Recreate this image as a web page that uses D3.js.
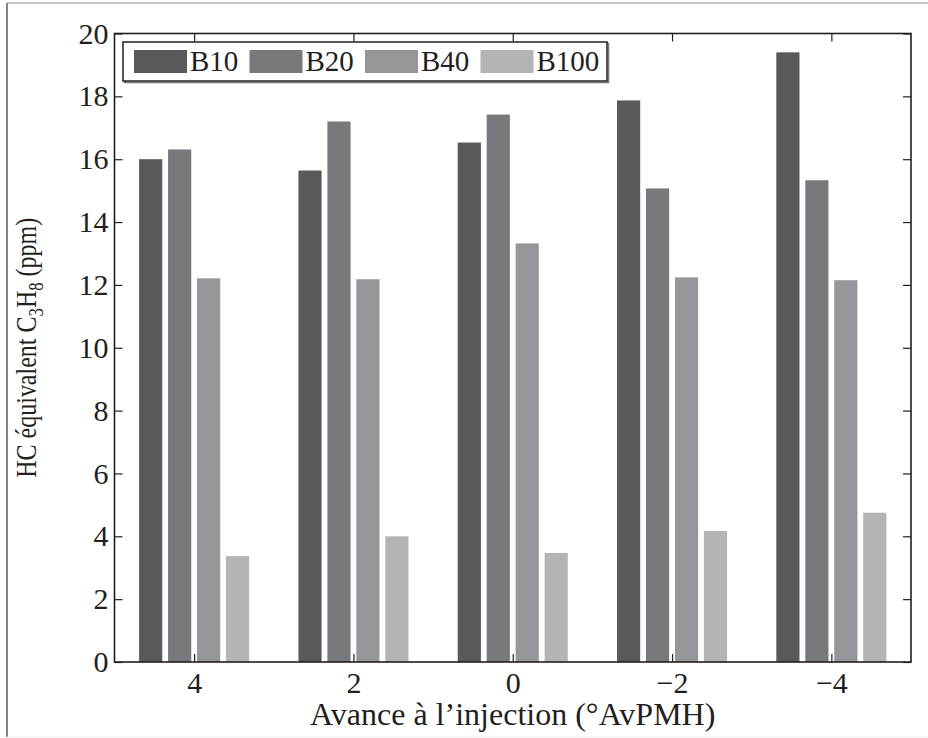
<!DOCTYPE html>
<html>
<head>
<meta charset="utf-8" />
<style>
	body { margin: 0; background: #fff; }
	svg { display: block; }
	text { font-family: "Liberation Serif", "Times New Roman", serif; fill: #231f20; }
</style>
<title>HC équivalent C3H8</title>
</head>
<body>
<script src="https://cdn.jsdelivr.net/npm/d3@7"></script>
<script>
	// data
	var categories = ["4", "2", "0", "\u22122", "\u22124"];
	var series = ["B10", "B20", "B40", "B100"];
	var b10 = [16.0, 15.64, 16.53, 17.87, 19.4];
	var b20 = [16.31, 17.2, 17.42, 15.07, 15.33];
	var b40 = [12.21, 12.18, 13.32, 12.24, 12.15];
	var b100 = [3.37, 4.0, 3.47, 4.17, 4.75];
	var yTicks = [0, 2, 4, 6, 8, 10, 12, 14, 16, 18, 20];
	var colors = ["#58595b", "#78797d", "#959699", "#b3b4b6"];

	var values = [b10, b20, b40, b100];

	var W = 928, H = 738;
	var m = {left: 114.5, right: 911, top: 33.5, bottom: 662};
	var tickFs = 30;

	var svg = d3.select("body").append("svg").attr("width", W).attr("height", H);

	// outer figure frame
	svg.append("line").attr("x1", 7).attr("x2", 7).attr("y1", 3).attr("y2", 737).attr("stroke", "#333").attr("stroke-width", 1.2);
	svg.append("line").attr("x1", 7).attr("x2", 928).attr("y1", 3).attr("y2", 3).attr("stroke", "#888").attr("stroke-width", 1);
	svg.append("line").attr("x1", 7).attr("x2", 928).attr("y1", 737).attr("y2", 737).attr("stroke", "#eee").attr("stroke-width", 1);

	// x as continuous index like matlab: xlim [0.5, 5.5]
	var x = d3.scaleLinear().domain([0.5, categories.length + 0.5]).range([m.left, m.right]);
	var y = d3.scaleLinear().domain([0, 20]).range([m.bottom, m.top]);

	var nS = series.length;
	var groupW = Math.min(0.8, nS / (nS + 1.5));
	var barW = groupW / nS * 0.8;

	var g = svg.append("g");
	series.forEach(function (s, j) {
		g.selectAll(".bar" + j)
			.data(values[j])
			.join("rect")
			.attr("class", "bar" + j)
			.attr("x", (d, i) => x(i + 1 + (j - (nS - 1) / 2) * groupW / nS - barW / 2))
			.attr("width", x(barW) - x(0))
			.attr("y", d => y(d))
			.attr("height", d => y(0) - y(d))
			.attr("fill", colors[j]);
	});

	// axes box with inside ticks
	var axColor = "#231f20";
	var axLeft = svg.append("g").attr("transform", `translate(${m.left},0)`)
		.call(d3.axisLeft(y).tickValues(yTicks).tickSize(-8).tickPadding(6));
	var axRight = svg.append("g").attr("transform", `translate(${m.right},0)`)
		.call(d3.axisRight(y).tickValues(yTicks).tickSize(-8).tickFormat(""));
	var axBottom = svg.append("g").attr("transform", `translate(0,${m.bottom})`)
		.call(d3.axisBottom(x).tickValues([1, 2, 3, 4, 5]).tickSize(-8).tickPadding(10)
			.tickFormat((d) => categories[d - 1]));
	var axTop = svg.append("g").attr("transform", `translate(0,${m.top})`)
		.call(d3.axisTop(x).tickValues([1, 2, 3, 4, 5]).tickSize(-8).tickFormat(""));

	[axLeft, axRight, axBottom, axTop].forEach(function (a) {
		a.selectAll(".tick line").attr("stroke", axColor).attr("stroke-width", 1.2);
		a.selectAll(".tick text").attr("font-family", "Liberation Serif").attr("font-size", tickFs)
			.attr("fill", axColor);
	});
	// matlab box: redraw domain as plain lines (no outer ticks)
	svg.selectAll(".domain").remove();
	svg.append("rect")
		.attr("x", m.left).attr("y", m.top)
		.attr("width", m.right - m.left).attr("height", m.bottom - m.top)
		.attr("fill", "none").attr("stroke", axColor).attr("stroke-width", 1.6);

	// axis labels
	svg.append("text")
		.attr("x", (m.left + m.right) / 2).attr("y", 725)
		.attr("text-anchor", "middle").attr("font-size", 32)
		.text("Avance \u00e0 l\u2019injection (\u00b0AvPMH)");

	// y label: taller glyphs, condensed along the text
	var yl = svg.append("text")
		.attr("transform", `translate(36,${(m.top + m.bottom) / 2}) scale(1,0.8) rotate(-90)`)
		.attr("text-anchor", "middle").attr("font-size", 30);
	yl.append("tspan").text("HC \u00e9quivalent C");
	yl.append("tspan").attr("font-size", 21).attr("dy", 7).text("3");
	yl.append("tspan").attr("dy", -7).text("H");
	yl.append("tspan").attr("font-size", 21).attr("dy", 7).text("8");
	yl.append("tspan").attr("dy", -7).text(" (ppm)");

	// legend
	var lg = svg.append("g").attr("transform", "translate(123,42)");
	lg.append("rect").attr("x", 1.5).attr("y", 1.5).attr("width", 484).attr("height", 39)
		.attr("fill", "none").attr("stroke", "#777").attr("stroke-width", 1.5);
	lg.append("rect").attr("width", 484).attr("height", 39)
		.attr("fill", "#fff").attr("stroke", axColor).attr("stroke-width", 1.5);
	var items = lg.selectAll(".item").data(series).join("g")
		.attr("transform", (d, i) => `translate(${11 + i * 115.5},8)`);
	items.append("rect").attr("width", 53).attr("height", 23).attr("fill", (d, i) => colors[i]);
	items.append("text").attr("x", 56).attr("y", 21)
		.attr("font-size", 29).text(d => d);
</script>
</body>
</html>
